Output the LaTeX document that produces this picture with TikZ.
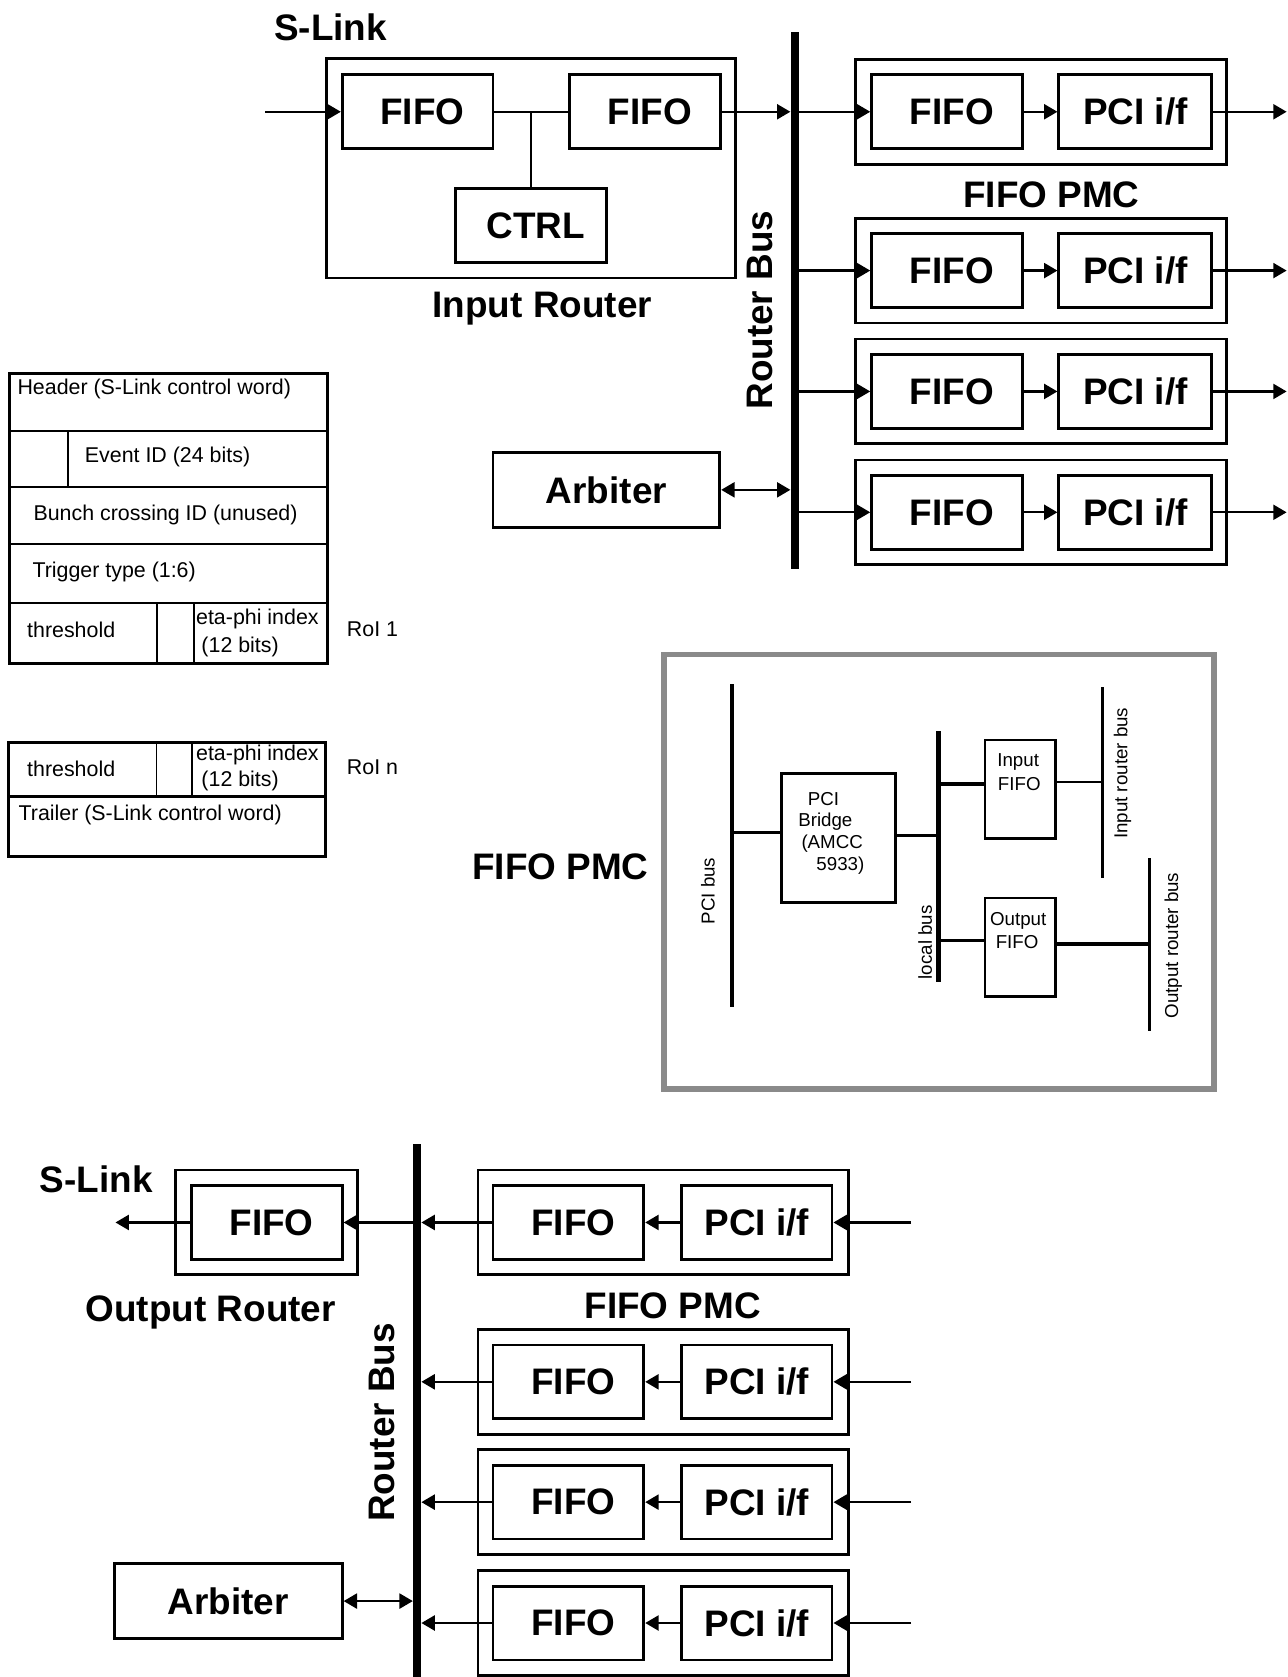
\documentclass[tikz,border=0pt]{standalone}
\usepackage{fontspec}
\setmainfont{Liberation Sans}
\usetikzlibrary{arrows.meta}
\newcommand\LabF{\fontsize{17.25}{20}\selectfont\bfseries}
\newcommand\TabF{\fontsize{10}{12}\selectfont}
\newcommand\SmF{\fontsize{8.75}{10}\selectfont}
\newcommand\FF{\hspace*{4.5pt}FIFO}
\definecolor{framegray}{RGB}{138,138,138}
\begin{document}
\begin{tikzpicture}[x=0.5pt,y=-0.5pt,
  blk/.style={draw, line width=1.3pt, inner sep=0pt, font=\LabF, minimum width=70.5pt, minimum height=34.5pt},
  outerbox/.style={draw, line width=1.3pt, inner sep=0pt},
  lab/.style={inner sep=0pt, font=\LabF},
  bus/.style={fill=black, inner sep=0pt, minimum width=3.6pt},
  conn/.style={line width=1.1pt},
  arr/.style={conn, -{Triangle[length=6.25pt,width=7pt]}},
  darr/.style={conn, {Triangle[length=6.25pt,width=7pt]}-{Triangle[length=6.25pt,width=7pt]}},
  tabtxt/.style={inner sep=0pt, anchor=west, font=\TabF},
  smtxt/.style={inner sep=0pt, font=\SmF},
  smbox/.style={draw, line width=1.25pt, inner sep=0pt}
]
\useasboundingbox (0,0) rectangle (1204,1568);

%================ TOP: input router =================
\node[lab] (slinkT) at (309,26) {S-Link};
\node[outerbox, minimum width=191.5pt, minimum height=102.5pt] (irouter) at (496.5,157.5) {};
\node[blk] (fifoA) at (390.5,104.5) {\FF};
\node[blk] (fifoB) at (603,104.5) {\FF};
\node[blk] (ctrl) at (496.5,211) {\hspace*{4.5pt}CTRL};
\node[lab] (irlab) at (507,289) {Input Router};
\coordinate (inT) at (248,104.5);
\draw[arr] (inT) -- (fifoA.west);
\draw[conn] (fifoA.east) -- (fifoB.west);
\draw[conn] (ctrl.north) -- (ctrl.north |- fifoA.east);

\node[bus, minimum height=251pt] (busT) at (743,281) {};
\node[lab, rotate=90] (rbT) at (711,290) {Router Bus};
\draw[arr] (fifoB.east) -- (fifoB.east -| busT.west);

\node[blk, minimum width=106pt, minimum height=35pt] (arbT) at (567,458) {Arbiter};
\draw[darr] (arbT.east) -- (arbT.east -| busT.west);

\foreach \i/\y in {1/104.5,2/253,3/366,4/479}{
  \node[outerbox, minimum width=173.5pt, minimum height=49pt] (pmcT\i) at (973.5,\y) {};
  \node[blk] (tf\i) at (885.5,\y) {\FF};
  \node[blk, minimum width=71.5pt] (tp\i) at (1061.5,\y) {PCI i/f};
  \coordinate (tout\i) at (1203,\y);
  \draw[arr] (tf\i.west -| busT.east) -- (tf\i.west);
  \draw[arr] (tf\i.east) -- (tp\i.west);
  \draw[arr] (tp\i.east) -- (tout\i);
}
\node[lab] (pmclabT) at (983,182) {FIFO PMC};

%================ event format table =================
\draw[line width=1.4pt] (8.7,349) rectangle (306,620);
\draw[line width=1pt] (8.7,402.6) -- (306,402.6)
                      (8.7,455) -- (306,455)
                      (8.7,509) -- (306,509)
                      (8.7,563.4) -- (306,563.4);
\draw[line width=0.8pt] (63.3,402.6) -- (63.3,455)
                        (147,563.4) -- (147,620)
                        (181.6,563.4) -- (181.6,620);
\node[tabtxt] (hdr) at (16,364) {Header (S-Link control word)};
\node[tabtxt] (evid) at (79,427.5) {Event ID (24 bits)};
\node[tabtxt] (bcid) at (31,481.5) {Bunch crossing ID (unused)};
\node[tabtxt] (trig) at (30,534.5) {Trigger type (1:6)};
\node[tabtxt] (thr1) at (25,588.5) {threshold};
\node[tabtxt] (eta1) at (183,579) {eta-phi index};
\node[tabtxt] (bit1) at (188,604.5) {(12 bits)};
\node[tabtxt] (roi1) at (324,588.5) {RoI 1};

\draw[line width=1.4pt] (7.8,694.2) rectangle (304.7,800.8);
\draw[line width=1pt] (7.8,744.7) -- (304.7,744.7);
\draw[line width=0.8pt] (146.4,694.2) -- (146.4,744.7)
                        (179.8,694.2) -- (179.8,744.7);
\node[tabtxt] (thrn) at (25,718.5) {threshold};
\node[tabtxt] (etan) at (183,705.5) {eta-phi index};
\node[tabtxt] (bitn) at (188,730.5) {(12 bits)};
\node[tabtxt] (roin) at (324,717) {RoI n};
\node[tabtxt] (trl) at (17,762) {Trailer (S-Link control word)};

%================ FIFO PMC detail =================
\node[lab] (pmcbig) at (524,810) {FIFO PMC};
\draw[framegray, line width=2.6pt] (621,612) rectangle (1135,1018);
\node[bus, minimum width=2pt, minimum height=151pt] (pcibus) at (684.5,791) {};
\node[smtxt, rotate=90] (pcibuslab) at (662,833) {PCI bus};
\node[draw, line width=1.5pt, inner sep=0pt, minimum width=53pt, minimum height=60pt] (bridge) at (784,783.5) {};
\node[smtxt, anchor=west] (br1) at (755,747.5) {PCI};
\node[smtxt, anchor=west] (br2) at (746,768.5) {Bridge};
\node[smtxt, anchor=west] (br3) at (749,789) {(AMCC};
\node[smtxt, anchor=west] (br4) at (763,809.5) {5933)};
\draw[conn] ([yshift=2.5pt]bridge.west) -- ([yshift=2.5pt]bridge.west -| pcibus.center);
\node[bus, minimum width=2pt, minimum height=117.5pt] (localbus) at (877.5,801) {};
\node[smtxt, rotate=90] (localbuslab) at (865,881) {local bus};
\draw[line width=1.5pt] ([yshift=1.3pt]bridge.east) -- ([yshift=1.3pt]bridge.east -| localbus.center);

\node[smbox, minimum width=33pt, minimum height=46pt] (infifo) at (954,738) {};
\node[smtxt] (inf1) at (952,712.5) {Input};
\node[smtxt] (inf2) at (953,733) {FIFO};
\draw[line width=2pt] ([yshift=2.5pt]infifo.west) -- ([yshift=2.5pt]infifo.west -| localbus.center);
\node[bus, minimum width=1.3pt, minimum height=89.5pt] (inbus) at (1030.5,731.5) {};
\node[smtxt, rotate=90] (inbuslab) at (1049.5,723) {Input router bus};
\draw[conn] ([yshift=3.5pt]infifo.east) -- ([yshift=3.5pt]infifo.east -| inbus.center);

\node[smbox, minimum width=33pt, minimum height=46pt] (outfifo) at (954,885.5) {};
\node[smtxt] (outf1) at (952,861) {Output};
\node[smtxt] (outf2) at (951,881) {FIFO};
\draw[line width=1.5pt] ([yshift=3pt]outfifo.west) -- ([yshift=3pt]outfifo.west -| localbus.center);
\node[bus, minimum width=1.5pt, minimum height=81pt] (outbus) at (1075,883) {};
\node[smtxt, rotate=90] (outbuslab) at (1097,884) {Output router bus};
\draw[line width=1.75pt] ([yshift=1.5pt]outfifo.east) -- ([yshift=1.5pt]outfifo.east -| outbus.center);

%================ BOTTOM: output router =================
\node[lab] (slinkB) at (90,1103) {S-Link};
\node[outerbox, minimum width=85pt, minimum height=49pt] (orouter) at (249,1143) {};
\node[blk] (orfifo) at (249.5,1143) {\FF};
\node[lab] (orlab) at (197,1227) {Output Router};
\coordinate (outB) at (108,1143);
\draw[arr] (orfifo.west) -- (outB);

\node[bus, minimum height=249pt] (busB) at (390,1319) {};
\node[lab, rotate=90] (rbB) at (357,1330) {Router Bus};
\draw[arr] (orfifo.east -| busB.west) -- (orfifo.east);

\node[blk, minimum width=106.5pt, minimum height=35pt] (arbB) at (213.5,1497) {Arbiter};
\draw[darr] (arbB.east) -- (arbB.east -| busB.west);

\foreach \i/\y in {1/1143,2/1292,3/1404.5,4/1517.5}{
  \node[outerbox, minimum width=173pt, minimum height=49pt] (pmcB\i) at (620,\y) {};
  \node[blk] (bf\i) at (531.5,\y) {\FF};
  \node[blk] (bp\i) at (707.5,\y) {PCI i/f};
  \coordinate (bin\i) at (852,\y);
  \draw[arr] (bin\i) -- (bp\i.east);
  \draw[arr] (bp\i.west) -- (bf\i.east);
  \draw[arr] (bf\i.west) -- (bf\i.west -| busB.east);
}
\node[lab] (pmclabB) at (629,1221) {FIFO PMC};
\end{tikzpicture}
\end{document}
